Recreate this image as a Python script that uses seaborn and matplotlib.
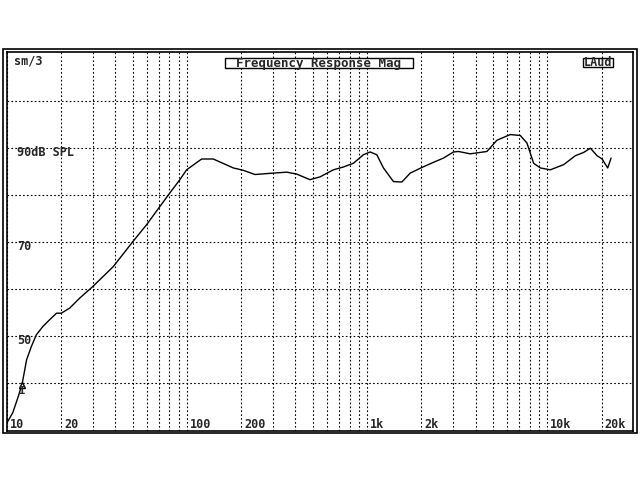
import numpy as np
import pandas as pd
import matplotlib
matplotlib.use("Agg")
import matplotlib.pyplot as plt
import matplotlib.transforms as mtrans
from matplotlib.patches import Rectangle
import seaborn as sns

# frequency response (Hz, dB SPL)
freq = [10.0, 10.8, 11.6, 12.2, 12.9, 13.7, 14.6, 15.9, 17.3, 18.9, 20.1, 22.4,
        25.4, 30.1, 39.0, 50.3, 59.7, 70.8, 80.5, 91.4, 99.6, 120.7, 140, 180.9,
        205.4, 238.6, 301.6, 357.9, 406.5, 482, 548, 650, 738.6, 839.5, 953,
        1039, 1132, 1232, 1400, 1559, 1734, 2014, 2336, 2654, 3016, 3215, 3733,
        4064, 4621, 5255, 6230, 7079, 7709, 8393, 9141, 10390, 12320, 14305,
        15910, 17338, 18880, 20138, 21630, 22590]
spl = [31.4, 33.6, 37.1, 39.9, 44.9, 47.7, 50.2, 52.0, 53.4, 54.8, 54.8, 55.9,
       58.0, 60.5, 64.7, 70.1, 73.6, 77.5, 80.4, 83.2, 85.3, 87.6, 87.6, 85.7,
       85.2, 84.3, 84.6, 84.8, 84.4, 83.2, 83.8, 85.3, 85.9, 86.7, 88.5,
       89.1, 88.5, 85.7, 82.8, 82.7, 84.6, 85.8, 86.9, 87.8, 89.1, 89.2, 88.7,
       88.9, 89.2, 91.6, 92.8, 92.6, 91.0, 86.7, 85.7, 85.3, 86.4, 88.3,
       89.0, 89.9, 88.3, 87.6, 85.7, 87.8]

x_labels = ["10", "20", "100", "200", "1k", "2k", "10k", "20k"]
x_label_pos = [10, 20, 100, 200, 1000, 2000, 10000, 20000]
y_labels = ["90dB SPL", "70", "50"]
y_label_pos = [90, 70, 50]

df = pd.DataFrame({"freq": freq, "spl": spl})

sns.set_style("white")
plt.rcParams["font.family"] = ["DejaVu Sans Mono", "DejaVu Sans"]

W, H = 640, 480
fig = plt.figure(figsize=(6.4, 4.8), dpi=100)

# inner frame in pixels (from top-left)
L, R, T, B = 6.7, 633.3, 52.3, 430.7
ax = fig.add_axes([L / W, (H - B) / H, (R - L) / W, (B - T) / H])

sns.lineplot(data=df, x="freq", y="spl", color="black", lw=1.0, ax=ax)

ax.set_xscale("log")
ax.set_xlim(10, 30000)
ax.set_ylim(29.8, 110.3)
ax.set_yticks(range(40, 101, 10))
ax.grid(True, which="both", axis="x", color="black", lw=0.8, linestyle=(0, (1.5, 2)))
ax.grid(True, which="major", axis="y", color="black", lw=0.8, linestyle=(0, (1.5, 2)))
ax.tick_params(which="both", length=0, labelbottom=False, labelleft=False)
ax.set_xlabel("")
ax.set_ylabel("")
for s in ax.spines.values():
    s.set_color("black")
    s.set_linewidth(1.2)

# labels drawn inside the plot
off = mtrans.offset_copy(ax.transData, fig=fig, x=3, y=0, units="dots")
for lab, f in zip(x_labels, x_label_pos):
    ax.text(f, 31.2, lab, transform=off, fontsize=8.5, fontweight="bold",
            va="center", ha="left")
for lab, v in zip(y_labels, y_label_pos):
    ax.text(11.4, v - 1.0, lab, fontsize=8.5, fontweight="bold",
            va="center", ha="left")

# cursor marker
ax.plot([12.1], [39.6], marker="^", ms=5, mfc="white", mec="black", mew=1)
ax.text(12.1, 38.2, "I", fontsize=8, fontweight="bold", ha="center", va="center")

# header texts (pixel boxes)
def px(x, y):
    return x / W, (H - y) / H

ft = fig.transFigure
ax.text(*px(14, 61.5), "sm/3", transform=ft, fontsize=8.5, fontweight="bold",
        va="center", ha="left", zorder=10)

x0, y0 = px(225, 68.3)
ax.add_patch(Rectangle((x0, y0), (413.3 - 225) / W, 10 / H, transform=ft,
                       facecolor="white", edgecolor="black", lw=1.0, zorder=10,
                       clip_on=False))
ax.text(*px(319, 63.3), "Frequency Response Mag", transform=ft, fontsize=9,
        fontweight="bold", va="center", ha="center", zorder=11)

x0, y0 = px(583.3, 67.3)
ax.add_patch(Rectangle((x0, y0), 30 / W, 9 / H, transform=ft,
                       facecolor="white", edgecolor="black", lw=1.0, zorder=10,
                       clip_on=False))
ax.text(*px(598.3, 62.8), "LAud", transform=ft, fontsize=8.5, fontweight="bold",
        va="center", ha="center", zorder=11)

# outer frame
x0, y0 = px(3.3, 433.3)
fig.add_artist(Rectangle((x0, y0), (636.7 - 3.3) / W, (433.3 - 49) / H,
                         transform=ft, fill=False, edgecolor="black", lw=1.2))

fig.savefig("out.png", dpi=100)
